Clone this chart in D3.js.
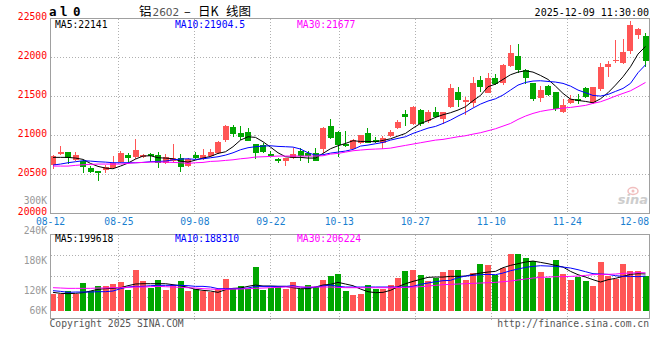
<!DOCTYPE html>
<html><head><meta charset="utf-8">
<script src="https://cdn.jsdelivr.net/npm/d3@7"></script>
<style>body{margin:0;background:#fff}svg{display:block}</style>
</head><body>
<svg id="c" width="660" height="360"></svg>
<script>
// ---------- DATA ----------
const dates = ["08-12","08-13","08-14","08-15","08-18","08-19","08-20","08-21","08-22","08-25","08-26","08-27","08-28","08-29",
"09-01","09-02","09-03","09-04","09-05","09-08","09-09","09-10","09-11","09-12","09-15","09-16","09-17","09-18","09-19",
"09-22","09-23","09-24","09-25","09-26","09-29","09-30","10-09","10-10","10-13","10-14","10-15","10-16","10-17",
"10-20","10-21","10-22","10-23","10-24","10-27","10-28","10-29","10-30","10-31","11-03","11-04","11-05","11-06","11-07",
"11-10","11-11","11-12","11-13","11-14","11-17","11-18","11-19","11-20","11-21","11-24","11-25","11-26","11-27","11-28",
"12-01","12-02","12-03","12-04","12-05","12-08","12-09"];
const open  = [20616,20757,20783,20680,20667,20582,20535,20552,20573,20650,20744,20719,20723,20757,20740,20637,20670,20706,20603,20740,
20689,20732,20766,20937,21100,21032,21040,20886,20869,20757,20697,20672,20706,20791,20766,20766,20826,21117,21040,20886,
20826,20895,21023,20937,20895,20989,21091,21271,21143,21323,21177,21297,21203,21357,21554,21426,21417,21708,21545,21730,
21666,21893,22017,21833,21666,21477,21631,21554,21297,21409,21464,21601,21420,21600,21871,21948,21923,22085,22291,22278];
const high  = [20745,20860,20790,20780,20680,20607,20540,20615,20732,20796,20766,20950,20760,20775,20783,20753,20886,20753,20710,20780,
20817,20826,20925,21125,21130,21117,21088,20890,20903,20800,20710,20710,20834,20834,20800,20830,21100,21207,21050,21049,
20955,21000,21092,20972,20989,21066,21194,21323,21374,21340,21323,21366,21300,21657,21614,21494,21751,21760,21794,21781,
21910,22163,22171,21845,21670,21631,21640,21560,21460,21511,21524,21623,21622,21931,21960,22222,22238,22471,22380,22313];
const low   = [20570,20745,20630,20670,20518,20518,20415,20518,20560,20640,20660,20700,20710,20660,20573,20630,20660,20522,20595,20690,
20680,20720,20760,20912,20972,20937,20920,20697,20770,20730,20646,20603,20700,20672,20646,20665,20766,20950,20723,20852,
20820,20882,20895,20895,20826,20980,21080,21117,21130,21117,21160,21220,21143,21344,21357,21263,21357,21554,21537,21640,
21650,21880,21803,21657,21434,21430,21503,21314,21290,21400,21400,21480,21395,21571,21745,21922,21910,22043,22235,21871];
const close = [20732,20783,20710,20740,20586,20530,20518,20595,20637,20766,20702,20809,20749,20732,20637,20715,20706,20595,20697,20706,
20749,20783,20912,21117,21014,20972,20925,20766,20779,20736,20672,20706,20757,20732,20732,20672,21091,20967,20877,20860,
20937,20997,20903,20912,20963,21040,21169,21228,21357,21143,21297,21228,21297,21601,21451,21447,21674,21623,21734,21657,
21897,22051,21837,21730,21460,21580,21520,21340,21383,21460,21443,21494,21618,21871,21914,21965,22066,22415,22364,21957];
const ma5  = [20715,20715,20715,20706,20689,20637,20599,20577,20569,20603,20642,20693,20732,20736,20710,20706,20697,20667,20654,20680,
20706,20727,20766,20787,20852,20937,20980,20972,20916,20847,20774,20723,20715,20715,20706,20706,20766,20826,20864,20894,
20929,20920,20920,20916,20933,20954,20989,21023,21091,21151,21186,21229,21263,21289,21323,21366,21443,21511,21623,21657,
21717,21777,21811,21828,21811,21768,21717,21631,21537,21464,21447,21434,21417,21468,21546,21644,21751,21880,22043,22141];
const ma10 = [20616,20629,20646,20659,20672,20667,20659,20654,20646,20646,20646,20646,20650,20659,20663,20667,20684,20693,20697,20689,
20697,20710,20723,20744,20774,20813,20839,20852,20860,20864,20856,20852,20847,20822,20774,20744,20749,20770,20783,20796,
20817,20860,20873,20890,20907,20937,20959,20980,21023,21057,21091,21113,21151,21194,21246,21293,21349,21400,21439,21468,
21516,21580,21644,21678,21696,21700,21691,21683,21666,21631,21580,21546,21511,21503,21524,21563,21601,21666,21803,21905];
const ma30 = [20603,20603,20603,20612,20620,20625,20629,20629,20629,20629,20637,20646,20650,20654,20654,20654,20650,20646,20637,20646,
20650,20663,20667,20676,20684,20697,20706,20719,20723,20727,20732,20732,20732,20732,20732,20732,20736,20757,20766,20783,
20800,20809,20817,20822,20826,20834,20852,20869,20886,20903,20920,20937,20946,20963,20980,20993,21014,21032,21057,21083,
21117,21151,21203,21246,21280,21306,21323,21336,21349,21357,21370,21383,21409,21430,21464,21503,21537,21571,21623,21678];
const volume = [93340,89750,105905,93340,150780,105905,132830,132830,143600,154370,111290,218990,159755,123855,165140,111290,138215,159755,105905,120265,
105905,102315,120265,170525,116675,132830,120265,235145,111290,125650,129240,116675,154370,120265,138215,129240,165140,186680,197450,105905,
84365,89750,138215,116675,116675,138215,175910,213605,218990,192065,159755,175910,208220,218990,218990,165140,202835,251300,245915,192065,
229760,305150,305150,283610,267455,208220,175910,272840,197450,165140,181295,159755,132830,262070,186680,170525,251300,213605,213605,186680];
const volMa5 = [100520,95135,93340,95135,98725,107700,116675,120265,122060,125650,136420,145395,147190,147190,147190,147190,141805,136420,127445,116675,
111290,107700,100520,114880,122060,123855,132830,140010,134625,134625,132830,132830,125650,120265,120265,129240,140010,143600,154370,145395,
136420,118470,104110,98725,100520,111290,131035,147190,159755,170525,181295,183090,183090,186680,186680,188475,197450,204630,210015,213605,
233350,245915,254890,263865,269250,262070,254890,245915,236940,213605,195655,183090,168730,156165,168730,175910,186680,197450,201040,199618];
const volMa10 = [109495,105905,100520,102315,102315,102315,104110,104110,107700,120265,129240,132830,132830,136420,138215,138215,138215,138215,136420,132830,
132830,129240,120265,120265,120265,120265,123855,132830,132830,132830,132830,132830,136420,129240,125650,129240,134625,140010,132830,129240,
129240,129240,129240,129240,129240,129240,129240,129240,132830,143600,150780,157960,163345,165140,179500,188475,192065,195655,197450,195655,
204630,217195,226170,235145,240530,244120,242325,240530,236940,231555,222580,211810,201040,199245,197450,190270,186680,186680,184885,188310];
const volMa30 = [125650,123855,122060,122060,122060,122060,123855,123855,125650,125650,127445,129240,129240,131035,132830,131035,129240,127445,125650,123855,
120265,118470,116675,116675,118470,118470,120265,122060,123855,125650,127445,129240,129240,129240,129240,129240,129240,129240,127445,125650,
125650,125650,125650,125650,125650,125650,127445,127445,129240,131035,134625,138215,141805,143600,145395,147190,148985,150780,152575,154370,
157960,161550,166935,172320,177705,181295,183090,184885,184885,186680,188475,192065,195655,197450,197450,199245,202835,204630,206425,206224];
const priceTicks = [22500,22000,21500,21000,20500,20000];
const volTicks = [300000,240000,180000,120000,60000];
const dateTicks = ["08-12","08-25","09-08","09-22","10-13","10-27","11-10","11-24","12-08"];
const legendMain = [{name:"MA5", value:"22141"},{name:"MA10", value:"21904.5"},{name:"MA30", value:"21677"}];
const legendVol  = [{name:"MA5", value:"199618"},{name:"MA10", value:"188310"},{name:"MA30", value:"206224"}];

// ---------- LAYOUT ----------
const svg = d3.select('#c');
const L = 50.5, R = 649.5, T = 18.5, B = 213.5;
const VT = 234.5, VB = 318.5, VBASE = 311;
const RED = "#ff5555", GREEN = "#00a600", GRID = "#b0b0b0", FRAME = "#a0a0a0";
const MONO = "'DejaVu Sans Mono', monospace";
const maColors = ["#000000", "#0000ff", "#ff00ff"];
const n = dates.length;

const xC = d3.scaleLinear().domain([0, n - 1]).range([53, 645.5]);
const xG = d3.scaleLinear().domain([0, n - 1]).range([50.5, 650.9]);
const y = d3.scaleLinear().domain([20000, 22500]).range([213, 18.5]);
const yV = d3.scaleLinear().domain([0, 400000]).range([VBASE, VBASE - 400000 / 5390]);
const yVL = d3.scaleLinear().domain([300000, 120000]).range([200.5, 290.7]);
const crisp = v => Math.round(v - 0.5) + 0.5;

const g = svg.append('g');

// grids
const gridG = g.append('g').attr('stroke', GRID).attr('stroke-dasharray', '1,2').attr('shape-rendering','crispEdges');
priceTicks.filter(p => p > 20000 && p < 22500).forEach(p => {
  gridG.append('line').attr('x1', L).attr('x2', R).attr('y1', crisp(y(p))).attr('y2', crisp(y(p)));
});
const tickIdx = dateTicks.map(d => dates.indexOf(d));
tickIdx.filter(i => i > 0 && xG(i) < R - 10).forEach(i => {
  const xx = crisp(xG(i));
  gridG.append('line').attr('x1', xx).attr('x2', xx).attr('y1', T).attr('y2', B);
  gridG.append('line').attr('x1', xx).attr('x2', xx).attr('y1', VT).attr('y2', VB + 2);
});
[1, 2, 3].forEach(k => {
  const yy = crisp(VT + (VB - VT) * k / 4 - 0.5);
  gridG.append('line').attr('x1', L).attr('x2', R).attr('y1', yy).attr('y2', yy);
});

// volume bars
const up = i => close[i] >= open[i];
g.append('g').selectAll('rect').data(volume).join('rect')
  .attr('x', (d, i) => Math.round(xC(i) - 3))
  .attr('width', 6)
  .attr('y', d => yV(d))
  .attr('height', d => VBASE - yV(d))
  .attr('fill', (d, i) => up(i) ? RED : GREEN)
  .attr('shape-rendering', 'crispEdges');

// candles
const cg = g.append('g').attr('shape-rendering', 'crispEdges');
dates.forEach((d, i) => {
  const col = up(i) ? RED : GREEN;
  const cx = Math.floor(xC(i)) + 0.5;
  cg.append('line').attr('x1', cx).attr('x2', cx).attr('y1', y(high[i])).attr('y2', y(low[i])).attr('stroke', col);
  const top = y(Math.max(open[i], close[i])), bot = y(Math.min(open[i], close[i]));
  cg.append('rect').attr('x', Math.round(xC(i) - 3)).attr('width', 6)
    .attr('y', top).attr('height', Math.max(1, bot - top)).attr('fill', col);
});

// MA lines
const lineMain = d3.line().x((d, i) => xC(i)).y(d => y(d));
[ma5, ma10, ma30].forEach((arr, k) => {
  g.append('path').attr('d', lineMain(arr)).attr('fill', 'none').attr('stroke', maColors[k]).attr('stroke-width', 1);
});
const lineVol = d3.line().x((d, i) => xC(i)).y(d => yV(d));
[volMa5, volMa10, volMa30].forEach((arr, k) => {
  g.append('path').attr('d', lineVol(arr)).attr('fill', 'none').attr('stroke', maColors[k]).attr('stroke-width', 1);
});

// frames
const fr = g.append('g').attr('fill', 'none').attr('stroke', FRAME).attr('shape-rendering', 'crispEdges');
fr.append('rect').attr('x', L).attr('y', T).attr('width', R - L).attr('height', B - T);
fr.append('rect').attr('x', L).attr('y', VT).attr('width', R - L).attr('height', VB - VT);

// price labels
g.append('g').selectAll('text').data(priceTicks).join('text')
  .attr('x', 47).attr('y', d => y(d) - 1.6).attr('dy', '0.36em').attr('text-anchor', 'end')
  .attr('font-family', MONO).attr('font-size', 9.7).attr('fill', '#ff0000').text(d => d);
// volume labels
g.append('g').selectAll('text').data(volTicks).join('text')
  .attr('x', 47).attr('y', d => Math.min(yVL(d), VBASE)).attr('dy', '0.36em').attr('text-anchor', 'end')
  .attr('font-family', MONO).attr('font-size', 9.7).attr('fill', '#999').text(d => (d / 1000) + 'K');
// date labels
g.append('g').selectAll('text').data(dateTicks).join('text')
  .attr('x', (d) => Math.min(xG(dates.indexOf(d)), 649 - 14.5)).attr('y', 221.7).attr('dy', '0.36em')
  .attr('text-anchor', 'middle').attr('font-family', MONO).attr('font-size', 9.7).attr('fill', '#1a80d0').text(d => d);

// legends
const legX = [55, 175, 297];
function legend(items, yy) {
  items.forEach((it, k) => {
    g.append('text').attr('x', legX[k]).attr('y', yy).attr('dy', '0.36em')
      .attr('font-family', MONO).attr('font-size', 9.7).attr('fill', maColors[k]).text(it.name + ':' + it.value);
  });
}
legend(legendMain, 24.5);
legend(legendVol, 238.5);

// header
const code = g.append('text').attr('y', 15.5).attr('font-family', MONO).attr('font-weight', 'bold')
  .attr('font-size', 12.5).attr('fill', '#000');
[['a', 49], ['l', 60], ['0', 73]].forEach(([ch, xx]) => code.append('tspan').attr('x', xx).text(ch));
const title = g.append('text').attr('y', 15.5).attr('font-size', 12.5).attr('fill', '#000')
  .attr('font-family', "'Noto Sans CJK SC', sans-serif");
title.append('tspan').attr('x', 139).text('铝');
title.append('tspan').attr('x', 152.5).attr('fill', '#555').attr('font-family', "'DejaVu Sans', sans-serif").attr('font-size', 10.5).text('2602');
title.append('tspan').attr('x', 184).text('–');
title.append('tspan').attr('x', 198).text('日K');
title.append('tspan').attr('x', 226).text('线图');
g.append('text').attr('x', 649).attr('y', 12.5).attr('dy', '0.36em').attr('text-anchor', 'end')
  .attr('font-family', MONO).attr('font-size', 10).attr('fill', '#000').text('2025-12-09 11:30:00');

// footer
g.append('text').attr('x', 49.5).attr('y', 323.5).attr('dy', '0.36em').attr('font-family', MONO)
  .attr('font-size', 9.7).attr('fill', '#555').text('Copyright 2025 SINA.COM');
g.append('text').attr('x', 649).attr('y', 323.5).attr('dy', '0.36em').attr('text-anchor', 'end').attr('font-family', MONO)
  .attr('font-size', 9.7).attr('fill', '#555').text('http://finance.sina.com.cn');

// watermark
const wm = g.append('g').attr('opacity', 0.9);
wm.append('ellipse').attr('cx', 633).attr('cy', 191).attr('rx', 5).attr('ry', 3.5).attr('fill', 'none').attr('stroke', '#f0b8b8').attr('stroke-width', 1.5);
wm.append('circle').attr('cx', 633).attr('cy', 191).attr('r', 1.5).attr('fill', '#f0b8b8');
wm.append('text').attr('x', 648).attr('y', 204).attr('text-anchor', 'end').attr('font-family', "'DejaVu Sans', sans-serif")
  .attr('font-style', 'italic').attr('font-weight', 'bold').attr('font-size', 13).attr('fill', '#c8c8c8').text('sina');
</script>
</body></html>
